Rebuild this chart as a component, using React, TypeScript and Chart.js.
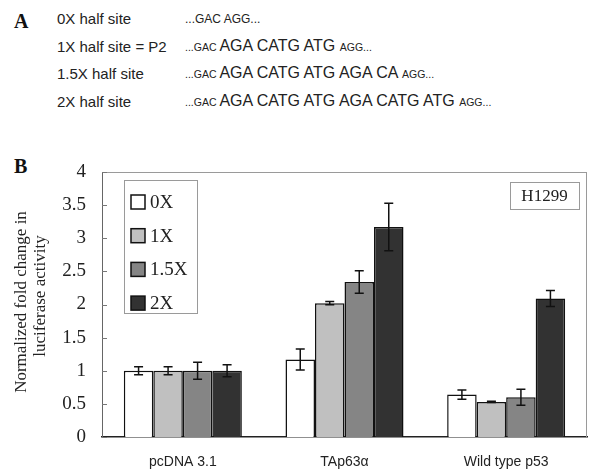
import React, { useEffect, useRef } from 'react';
import { Chart, registerables } from 'chart.js';
Chart.register(...registerables);

// ---------- data ----------
const categories = ['pcDNA 3.1', 'TAp63α', 'Wild type p53'];
const seriesNames = ['0X', '1X', '1.5X', '2X'];
const values0X = [1.0, 1.17, 0.64];
const values1X = [1.0, 2.02, 0.53];
const values15X = [1.0, 2.34, 0.6];
const values2X = [1.0, 3.17, 2.09];
const err0X = [0.06, 0.16, 0.07];
const err1X = [0.06, 0.025, 0.01];
const err15X = [0.13, 0.17, 0.12];
const err2X = [0.09, 0.36, 0.12];
const yMin = 0;
const yMax = 4;
const yStep = 0.5;
const yTitleLines = ['Normalized fold change in', 'luciferase activity'];
const cellLineLabel = 'H1299';

const rowLabels = ['0X half site', '1X half site = P2', '1.5X half site', '2X half site'];
const seqPrefix = '...GAC';
const seqSuffix = 'AGG...';
const seqCores = ['', 'AGA CATG ATG', 'AGA CATG ATG AGA CA', 'AGA CATG ATG AGA CATG ATG'];

const seriesValues = [values0X, values1X, values15X, values2X];
const seriesErrors = [err0X, err1X, err15X, err2X];
const seriesColors = ['#ffffff', '#c0c0c0', '#858585', '#323232'];

const SERIF = "'Liberation Serif', 'Times New Roman', serif";
const SANS = "'Liberation Sans', Arial, sans-serif";

const decorPlugin = {
  id: 'decor',
  beforeDatasetsDraw(chart: any) {
    const { ctx, chartArea: ca, scales } = chart;
    const y = scales.y;
    ctx.save();
    ctx.strokeStyle = '#9a9a9a';
    ctx.lineWidth = 1;
    ctx.beginPath();
    ctx.moveTo(ca.left, Math.round(ca.top) + 0.5);
    ctx.lineTo(ca.right, Math.round(ca.top) + 0.5);
    ctx.moveTo(Math.round(ca.right) - 0.5, ca.top);
    ctx.lineTo(Math.round(ca.right) - 0.5, ca.bottom);
    ctx.stroke();
    // inside tick marks
    ctx.strokeStyle = '#777';
    ctx.beginPath();
    y.ticks.forEach((t: any) => {
      const py = Math.round(y.getPixelForValue(t.value)) + 0.5;
      ctx.moveTo(ca.left, py);
      ctx.lineTo(ca.left + 5, py);
    });
    ctx.stroke();
    ctx.restore();
  },
  afterDatasetsDraw(chart: any) {
    const { ctx, scales } = chart;
    const y = scales.y;
    ctx.save();
    ctx.strokeStyle = '#111';
    ctx.lineWidth = 1.5;
    chart.data.datasets.forEach((ds: any, i: number) => {
      const meta = chart.getDatasetMeta(i);
      meta.data.forEach((bar: any, j: number) => {
        const v = ds.data[j];
        const e = seriesErrors[i][j];
        const yt = y.getPixelForValue(v + e);
        const yb = y.getPixelForValue(v - e);
        const x = bar.x;
        const cap = 4.5;
        ctx.beginPath();
        ctx.moveTo(x, yt);
        ctx.lineTo(x, yb);
        ctx.moveTo(x - cap, yt);
        ctx.lineTo(x + cap, yt);
        ctx.moveTo(x - cap, yb);
        ctx.lineTo(x + cap, yb);
        ctx.stroke();
      });
    });
    ctx.restore();
  },
  afterDraw(chart: any) {
    const { ctx, chartArea: ca } = chart;
    ctx.save();
    // legend box
    const lx = ca.left + 22;
    const ly = ca.top + 8;
    ctx.strokeStyle = '#9a9a9a';
    ctx.lineWidth = 1;
    ctx.fillStyle = '#fff';
    ctx.fillRect(lx, ly, 73, 133);
    ctx.strokeRect(lx + 0.5, ly + 0.5, 73, 133);
    ctx.font = `19px ${SERIF}`;
    ctx.textBaseline = 'middle';
    ctx.textAlign = 'left';
    chart.data.datasets.forEach((ds: any, i: number) => {
      const cy = ly + 22 + i * 33.7;
      ctx.fillStyle = ds.backgroundColor;
      ctx.fillRect(lx + 7, cy - 7, 14, 14);
      ctx.strokeStyle = '#111';
      ctx.lineWidth = 1.5;
      ctx.strokeRect(lx + 7, cy - 7, 14, 14);
      ctx.fillStyle = '#222';
      ctx.fillText(ds.label, lx + 26, cy + 1);
    });
    // cell line box
    const bw = 69, bh = 27;
    const bx = ca.right - 77;
    const by = ca.top + 10;
    ctx.strokeStyle = '#9a9a9a';
    ctx.lineWidth = 1;
    ctx.strokeRect(bx + 0.5, by + 0.5, bw, bh);
    ctx.fillStyle = '#222';
    ctx.font = `17px ${SERIF}`;
    ctx.textAlign = 'center';
    ctx.fillText(cellLineLabel, bx + bw / 2, by + bh / 2 + 1);
    // y title
    ctx.font = `17px ${SERIF}`;
    ctx.fillStyle = '#222';
    const titleX = [22, 41];
    const titleY = [ca.top + 130, ca.top + 124];
    yTitleLines.forEach((line, k) => {
      ctx.save();
      ctx.translate(titleX[k], titleY[k]);
      ctx.rotate(-Math.PI / 2);
      ctx.textAlign = 'center';
      ctx.textBaseline = 'middle';
      ctx.fillText(line, 0, 0);
      ctx.restore();
    });
    ctx.restore();
  },
};

export default function App() {
  const ref = useRef<HTMLCanvasElement>(null);
  useEffect(() => {
    const chart = new Chart(ref.current as HTMLCanvasElement, {
      type: 'bar',
      data: {
        labels: categories,
        datasets: seriesNames.map((name, i) => ({
          label: name,
          data: seriesValues[i],
          backgroundColor: seriesColors[i],
          borderColor: '#111',
          borderWidth: 1.5,
          barPercentage: 1,
          categoryPercentage: 0.73,
        })),
      },
      options: {
        animation: false,
        responsive: false,
        layout: { padding: { top: 32, right: 3, left: 0, bottom: 0 } },
        plugins: { legend: { display: false }, tooltip: { enabled: false } },
        scales: {
          x: {
            grid: { display: false, drawTicks: false },
            border: { display: true, color: '#222', width: 1.5 },
            ticks: { font: { family: SANS, size: 14 }, color: '#222', padding: 17 },
            afterFit: (s: any) => { s.height = 34; },
          },
          y: {
            min: yMin,
            max: yMax,
            grid: { display: false, drawTicks: false },
            border: { display: true, color: '#666', width: 1 },
            ticks: {
              stepSize: yStep,
              font: { family: SERIF, size: 19 },
              color: '#222',
              padding: 16,
              callback: (v: any) => String(v),
            },
            afterFit: (s: any) => { s.width = 102; },
          },
        },
      },
      plugins: [decorPlugin],
    });
    return () => chart.destroy();
  }, []);

  const rowY = [18, 46, 73, 101];
  return (
    <div style={{ position: 'absolute', left: 0, top: 0, width: 590, height: 471, background: '#fff', overflow: 'hidden' }}>
      <div style={{ position: 'absolute', left: 14, top: 21, transform: 'translateY(-50%)', font: `bold 20px ${SERIF}`, lineHeight: 1, color: '#111' }}>A</div>
      {rowLabels.map((lab, i) => (
        <React.Fragment key={lab}>
          <div style={{ position: 'absolute', left: 57, top: rowY[i], transform: 'translateY(-50%)', font: `15px ${SANS}`, lineHeight: 1, color: '#222', whiteSpace: 'nowrap' }}>{lab}</div>
          <div style={{ position: 'absolute', left: 185, top: rowY[i], transform: 'translateY(-50%)', font: `16px ${SANS}`, lineHeight: 1, color: '#222', whiteSpace: 'nowrap' }}>
            {seqCores[i] === '' ? (
              <span style={{ fontSize: 12 }}>{seqPrefix} {seqSuffix}</span>
            ) : (
              <>
                <span style={{ fontSize: 10.5 }}>{seqPrefix} </span>
                <span>{seqCores[i]} </span>
                <span style={{ fontSize: 10.5 }}>{seqSuffix}</span>
              </>
            )}
          </div>
        </React.Fragment>
      ))}
      <div style={{ position: 'absolute', left: 14, top: 166, transform: 'translateY(-50%)', font: `bold 20px ${SERIF}`, lineHeight: 1, color: '#111' }}>B</div>
      <canvas ref={ref} width={590} height={331} style={{ position: 'absolute', left: 0, top: 140, width: 590, height: 331 }} />
    </div>
  );
}
